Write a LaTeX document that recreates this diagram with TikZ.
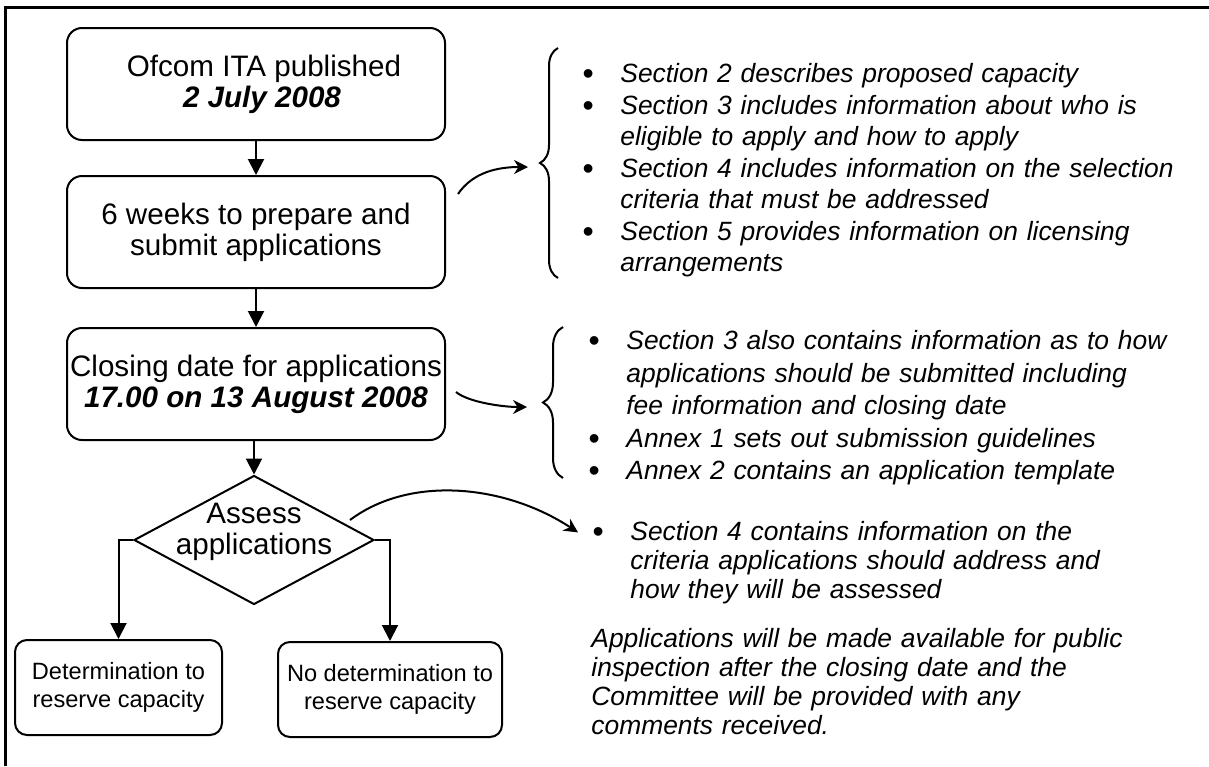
\documentclass[tikz,border=0pt]{standalone}
\usepackage{fontspec}
\setmainfont{Liberation Sans}
\usetikzlibrary{arrows.meta,shapes.geometric,decorations.pathreplacing}

% bullet item with hanging indent
\newcommand{\bul}{\par\noindent\hangindent=19pt\hangafter=1\strut\makebox[19pt][l]{\raisebox{-0.8pt}{\fontsize{16}{0}\selectfont\textbullet}}}

\tikzset{
    stage/.style={draw, line width=1pt, rounded corners=7.5pt, minimum width=189pt,
        minimum height=56pt, inner sep=0pt, align=center, font=\fontsize{14.8}{15.5}\selectfont},
    outcome/.style={draw, line width=1pt, rounded corners=6pt, minimum height=47.5pt,
        inner sep=0pt, align=center, font=\fontsize{11.8}{14}\selectfont},
    decision/.style={draw, diamond, line width=1pt, minimum width=120pt,
        minimum height=64.5pt, inner sep=0pt},
    flow/.style={line width=1pt, -{Triangle[length=8pt,width=8pt]}},
    pointer/.style={line width=1pt, -{Stealth[length=7pt,width=7pt]}},
    notes/.style={anchor=north west, inner sep=0pt, text width=320pt, align=left,
        font=\fontsize{13.2}{#1}\selectfont\itshape},
    curly/.style={line width=1pt, decorate, decoration={brace, amplitude=#1}},
}

\begin{document}
\begin{tikzpicture}[x=0.5pt, y=-0.5pt]
        \useasboundingbox (0,0) rectangle (1209,766);
        % Frame
        \draw [line width=1.5pt] (5,766) -- (5,7) -- (1209,7);
        % Stages
        \node[stage] (pub) at (256,84) {\hspace*{8pt}Ofcom ITA published\\\hspace*{6pt}\textbf{\textit{2 July 2008}}};
        \node[stage] (prep) at (256,232) {6 weeks to prepare and\\submit applications};
        \node[stage] (close) at (256,384) {Closing date for applications\\\textbf{\textit{17.00 on 13 August 2008}}};
        \node[decision, label={[font=\fontsize{14.8}{15.5}\selectfont, align=center, yshift=4pt]center:Assess\\applications}] (assess) at (254,540) {};
        \node[outcome, minimum width=103.5pt] (det) at (118.5,687.5) {Determination to\\reserve capacity};
        \node[outcome, minimum width=112pt] (nodet) at (390,689.5) {No determination to\\reserve capacity};
        \draw[flow] (pub.south) -- (prep.north);
        \draw[flow] (prep.south) -- (close.north);
        \draw[flow] (close.south -| assess.north) -- (assess.north);
        \draw[flow] (assess.west) -| (det.north);
        \draw[flow] (assess.east) -| (nodet.north);
        % Notes
        \node[notes=15.75pt] (sec2) at (582,51) {%
            \bul Section 2 describes proposed capacity
            \bul Section 3 includes information about who is\newline eligible to apply and how to apply
            \bul Section 4 includes information on the selection\newline criteria that must be addressed
            \bul Section 5 provides information on licensing\newline arrangements\par};
        \node[notes=16.25pt] (sec3) at (588,317) {%
            \bul Section 3 also contains information as to how\newline applications should be submitted including\newline fee information and closing date
            \bul Annex 1 sets out submission guidelines
            \bul Annex 2 contains an application template\par};
        \node[notes=14.5pt] (sec4) at (592,511.4) {%
            \bul Section 4 contains information on the\newline criteria applications should address and\newline how they will be assessed\par};
        \node[notes=14.5pt] (inspect) at (591,626.7) {%
            \strut Applications will be made available for public\newline inspection after the closing date and the\newline Committee will be provided with any\newline comments received.};
        % Braces and pointers
        \coordinate (b1bot) at (558,278);
        \coordinate (b1top) at (558,48);
        \coordinate (b2bot) at (563,478);
        \coordinate (b2top) at (563,327);
        \coordinate (tip1) at (528,167);
        \coordinate (tip2) at (527,407);
        \draw[curly=9pt] (b1bot) -- (b1top);
        \draw[curly=10pt] (b2bot) -- (b2top);
        \draw[pointer] ([shift={(12,19)}]prep.north east) .. controls +(15,-22) and +(-30,0) .. (tip1);
        \draw[pointer] ([shift={(10,8)}]close.east) .. controls +(12,10) and +(-25,0) .. (tip2);
        \draw[pointer] ([shift={(96,-20)}]assess.center) .. controls +(60,-45) and +(-73,-48) .. ([shift={(-14,21)}]sec4.north west);
\end{tikzpicture}
\end{document}
